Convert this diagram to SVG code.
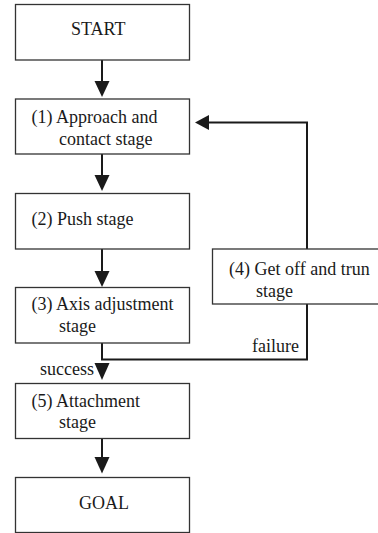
<svg xmlns="http://www.w3.org/2000/svg" width="378" height="533" viewBox="0 0 378 533">
<style>
.box{fill:#fff;stroke:#333;stroke-width:1.3}
.ln{fill:none;stroke:#1a1a1a;stroke-width:2}
.ah{fill:#1a1a1a}
</style>
<rect width="378" height="533" fill="#fff"/>
<g font-family="'Liberation Serif', 'Times New Roman', 'DejaVu Serif', serif" font-size="18" fill="#1a1a1a">
<g id="connectors">
<line class="ln" x1="102" y1="60" x2="102" y2="82"/>
<polygon class="ah" points="94.5,81 109.5,81 102,97"/>
<line class="ln" x1="102" y1="154" x2="102" y2="176"/>
<polygon class="ah" points="94.5,175 109.5,175 102,191"/>
<line class="ln" x1="102" y1="249" x2="102" y2="272"/>
<polygon class="ah" points="94.5,271 109.5,271 102,287"/>
<polyline class="ln" points="102,343 102,359.5 307,359.5 307,304"/>
<polygon class="ah" points="94.5,363 109.5,363 102,380"/>
<polyline class="ln" points="307,249 307,122.5 208,122.5"/>
<polygon class="ah" points="209,115 209,130 195,122.5"/>
<line class="ln" x1="102" y1="438" x2="102" y2="458"/>
<polygon class="ah" points="94.5,457 109.5,457 102,473.5"/>
<text x="252" y="351.5">failure</text>
<text x="40" y="375">success</text>
</g>
<g id="start"><rect class="box" x="15.5" y="4.5" width="174" height="55.5"/><text x="71" y="35">START</text></g>
<g id="n1"><rect class="box" x="15.5" y="99" width="174" height="55"/><text x="31.5" y="123">(1) Approach and</text><text x="59" y="145">contact stage</text></g>
<g id="n2"><rect class="box" x="15.5" y="193.5" width="174" height="55.5"/><text x="31.5" y="225">(2) Push stage</text></g>
<g id="n3"><rect class="box" x="15.5" y="287.5" width="174" height="55.5"/><text x="31.5" y="310">(3) Axis adjustment</text><text x="59" y="331.5">stage</text></g>
<g id="n4"><rect class="box" x="212.5" y="249" width="170" height="55"/><text x="229" y="275">(4) Get off and trun</text><text x="256" y="296.5">stage</text></g>
<g id="n5"><rect class="box" x="15.5" y="383.5" width="174" height="55"/><text x="31.5" y="406.5">(5) Attachment</text><text x="59" y="428">stage</text></g>
<g id="goal"><rect class="box" x="15.5" y="477.5" width="174" height="55"/><text x="79" y="508.5">GOAL</text></g>
</g>
</svg>
